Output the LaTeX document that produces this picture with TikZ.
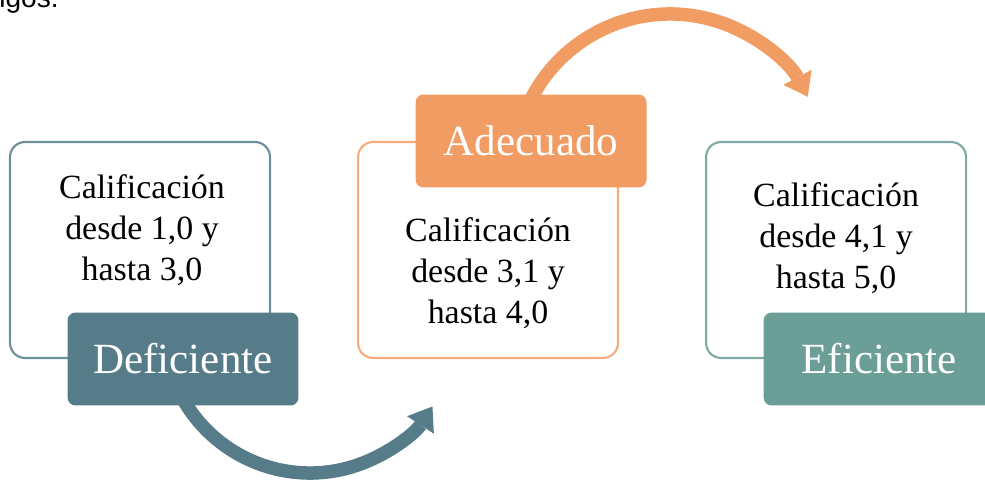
\documentclass[tikz,border=0pt]{standalone}
\usepackage{fontspec}
\setmainfont{Liberation Serif}
\newfontfamily\pagefont{Liberation Sans}
\usetikzlibrary{arrows.meta, positioning}

\definecolor{defcol}{HTML}{557C88}
\definecolor{adecol}{HTML}{F19C63}
\definecolor{eficol}{HTML}{6A9E97}
\definecolor{defline}{HTML}{6E909C}
\definecolor{adeline}{HTML}{F4AC7C}
\definecolor{efiline}{HTML}{7EAAA4}

\begin{document}
\begin{tikzpicture}[x=0.02cm, y=0.02cm,
  card/.style={draw, line width=1.2pt, rounded corners=0.3cm, fill=white, minimum width=5.2cm, minimum height=4.32cm},
  tag/.style={rounded corners=0.16cm, minimum width=4.62cm, minimum height=1.86cm, text=white, font=\fontsize{24.5pt}{29pt}\selectfont},
  body/.style={align=center, font=\fontsize{19.3pt}{23.3pt}\selectfont},
  flow/.style={line width=0.27cm, -{Triangle[width=0.64cm, length=0.44cm, line width=0pt]}}]

\useasboundingbox (0,0) rectangle (985,484);
\clip (0,0) rectangle (985,484);

\node[anchor=base west, inner sep=0pt, font=\pagefont\fontsize{16pt}{19pt}\selectfont] (cut) at (-1,476) {igos.};

\node[card, draw=defline] (box1) at (140,234) {};
\node[card, draw=adeline, right=1.72cm of box1] (box2) {};
\node[card, draw=efiline, right=1.72cm of box2] (box3) {};

\coordinate (pivot1) at ([shift={(170,-77)}]box1.center);
\coordinate (pivot2) at ([shift={(182,80)}]box2.center);

\draw[flow, defcol] ([shift={(200:146)}]pivot1) arc[start angle=200, end angle=327, radius=146];
\draw[flow, adecol] ([shift={(160:156)}]pivot2) arc[start angle=160, end angle=28, radius=156];

\node[tag, fill=defcol] (def) at ([shift={(43,-109)}]box1.center) {Deficiente};
\node[tag, fill=adecol] (ade) at ([shift={(43,109)}]box2.center) {Adecuado};
\node[tag, fill=eficol] (efi) at ([shift={(43,-109)}]box3.center) {Eficiente};

\node[body] (t1) at ([shift={(2,20)}]box1.center) {Calificación\\desde 1,0 y\\hasta 3,0};
\node[body] (t2) at ([shift={(0,-23)}]box2.center) {Calificación\\desde 3,1 y\\hasta 4,0};
\node[body] (t3) at ([shift={(0,12)}]box3.center) {Calificación\\desde 4,1 y\\hasta 5,0};

\end{tikzpicture}
\end{document}
